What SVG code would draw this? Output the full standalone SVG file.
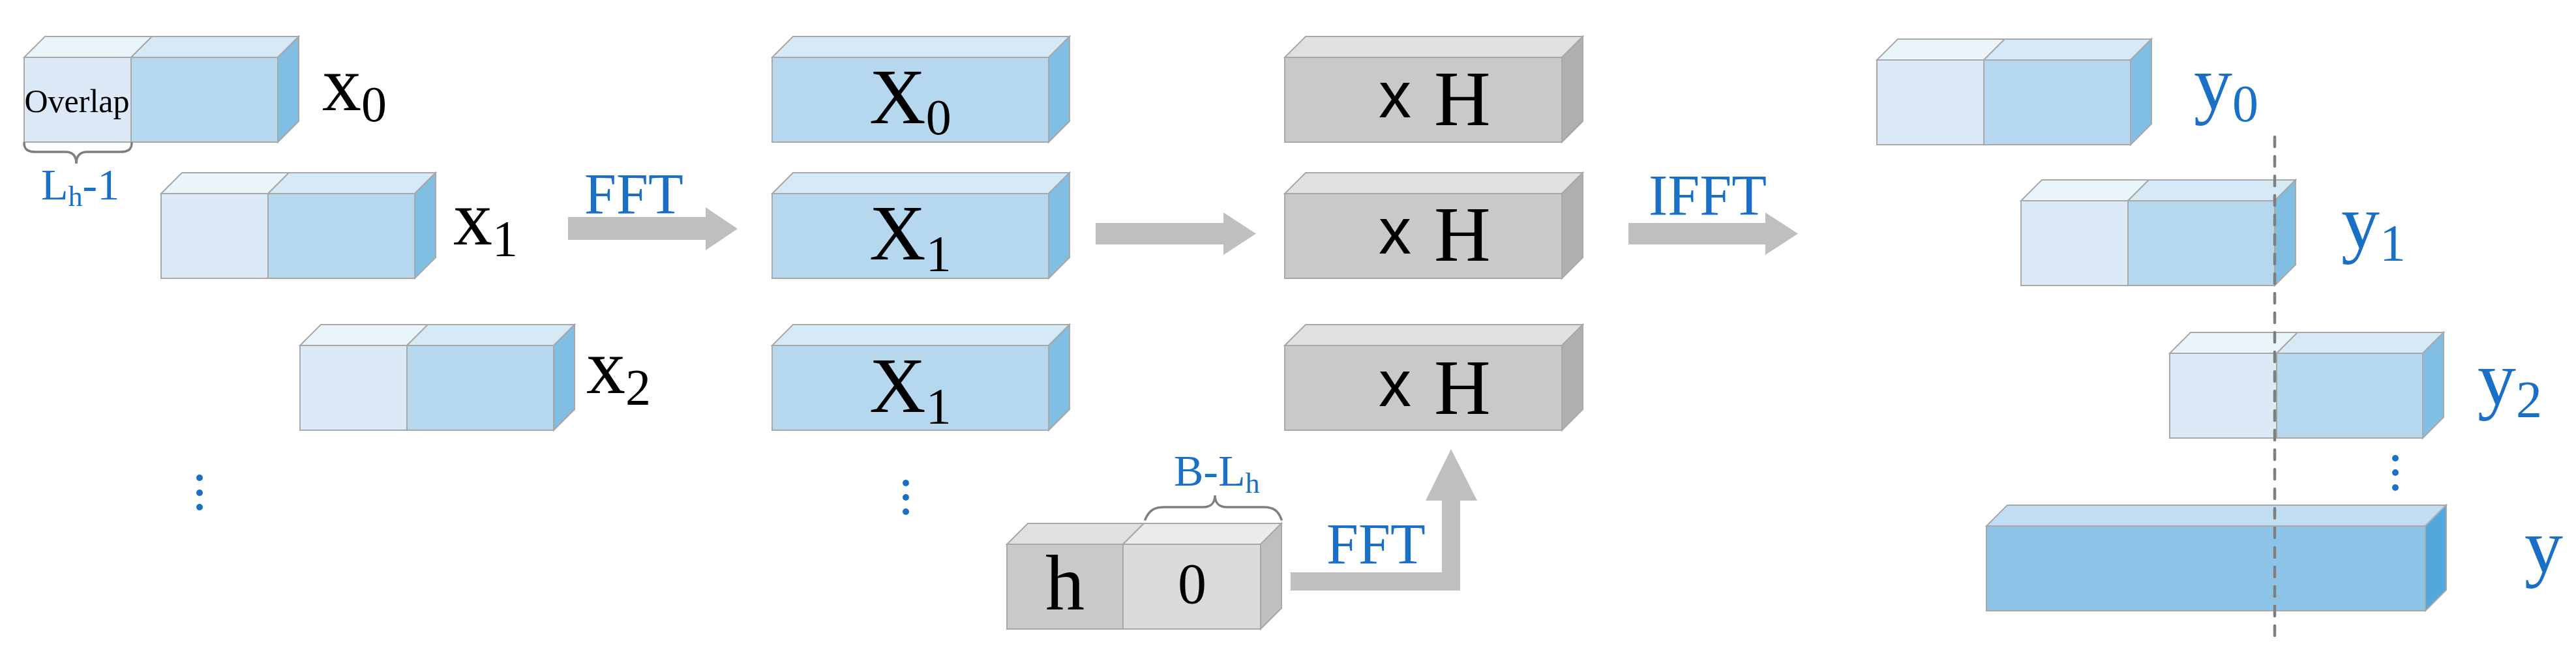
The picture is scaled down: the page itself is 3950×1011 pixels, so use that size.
<svg xmlns="http://www.w3.org/2000/svg" width="3950" height="1011" viewBox="0 0 3950 1011">
<defs>
<style>
.s{stroke:#a8a8a8;stroke-width:2;stroke-linejoin:miter}
.ovf{fill:#dbeaf6}.ovt{fill:#eaf4fb}
.mf{fill:#b5d8ef}.mt{fill:#d6e9f7}.ms{fill:#80bee4}
.yf{fill:#8dc3e7}.yt{fill:#c0ddf1}.ys{fill:#52a8dc}
.gf{fill:#c9c9c9}.gt{fill:#e0e0e0}.gs{fill:#afafaf}
.zf{fill:#dbdbdb}.zt{fill:#ebebeb}.zs{fill:#bfbfbf}
.arr{fill:#bfbfbf}
.serif{font-family:"Liberation Serif","Times New Roman",serif}
.sans{font-family:"Liberation Sans",Arial,sans-serif}
.blk{fill:#000}
.blu{fill:#1a6fc6}
.brace{fill:none;stroke:#7f7f7f;stroke-width:3.5;stroke-linecap:round}
.dot{fill:#1a6fc6}
</style>
</defs>
<rect width="3950" height="1011" fill="#fff"/>

<!-- input blocks x0,x1,x2 -->
<g id="x0">
<polygon class="s ovt" points="37,88 69,56 233,56 201,88"/>
<polygon class="s mt" points="201,88 233,56 458,56 426,88"/>
<polygon class="s ms" points="426,88 458,56 458,186 426,218"/>
<rect class="s ovf" x="37" y="88" width="164" height="130"/>
<rect class="s mf" x="201" y="88" width="225" height="130"/>
<text class="serif blk" x="118" y="172" font-size="50" text-anchor="middle">Overlap</text>
<text class="serif blk" x="494" y="169" font-size="120">x<tspan font-size="78" dy="17">0</tspan></text>
</g>
<g id="x1">
<polygon class="s ovt" points="247,297 279,265 443,265 411,297"/>
<polygon class="s mt" points="411,297 443,265 668,265 636,297"/>
<polygon class="s ms" points="636,297 668,265 668,395 636,427"/>
<rect class="s ovf" x="247" y="297" width="164" height="130"/>
<rect class="s mf" x="411" y="297" width="225" height="130"/>
<text class="serif blk" x="695" y="375" font-size="120">x<tspan font-size="78" dy="17">1</tspan></text>
</g>
<g id="x2">
<polygon class="s ovt" points="460,530 492,498 656,498 624,530"/>
<polygon class="s mt" points="624,530 656,498 881,498 849,530"/>
<polygon class="s ms" points="849,530 881,498 881,628 849,660"/>
<rect class="s ovf" x="460" y="530" width="164" height="130"/>
<rect class="s mf" x="624" y="530" width="225" height="130"/>
<text class="serif blk" x="899" y="603" font-size="120">x<tspan font-size="78" dy="17">2</tspan></text>
</g>
<g id="lh1">
<path class="brace" d="M37,219 C37,229 42,233 55,233 L100,233 C110,233 117,238 117,251 C117,238 124,233 134,233 L184,233 C197,233 202,229 202,219"/>
<text class="serif blu" x="63" y="306" font-size="68">L<tspan font-size="44" dy="10">h</tspan><tspan dy="-10">-1</tspan></text>
</g>
<g id="dots-left">
<circle class="dot" cx="306" cy="733" r="5"/>
<circle class="dot" cx="306" cy="756" r="5"/>
<circle class="dot" cx="306" cy="778" r="5"/>
</g>

<!-- spectra X -->
<g id="X0">
<polygon class="s mt" points="1184,88 1216,56 1640,56 1608,88"/>
<polygon class="s ms" points="1608,88 1640,56 1640,186 1608,218"/>
<rect class="s mf" x="1184" y="88" width="424" height="130"/>
<text class="serif blk" x="1333" y="189" font-size="120">X<tspan font-size="78" dy="17">0</tspan></text>
</g>
<g id="X1a">
<polygon class="s mt" points="1184,297 1216,265 1640,265 1608,297"/>
<polygon class="s ms" points="1608,297 1640,265 1640,395 1608,427"/>
<rect class="s mf" x="1184" y="297" width="424" height="130"/>
<text class="serif blk" x="1333" y="398" font-size="120">X<tspan font-size="78" dy="17">1</tspan></text>
</g>
<g id="X1b">
<polygon class="s mt" points="1184,530 1216,498 1640,498 1608,530"/>
<polygon class="s ms" points="1608,530 1640,498 1640,628 1608,660"/>
<rect class="s mf" x="1184" y="530" width="424" height="130"/>
<text class="serif blk" x="1333" y="632" font-size="120">X<tspan font-size="78" dy="17">1</tspan></text>
</g>
<g id="dots-mid">
<circle class="dot" cx="1389" cy="741" r="5"/>
<circle class="dot" cx="1389" cy="763" r="5"/>
<circle class="dot" cx="1389" cy="785" r="5"/>
</g>

<!-- xH blocks -->
<g id="xH0">
<polygon class="s gt" points="1970,88 2002,56 2427,56 2395,88"/>
<polygon class="s gs" points="2395,88 2427,56 2427,186 2395,218"/>
<rect class="s gf" x="1970" y="88" width="425" height="130"/>
<text class="sans blk" x="2114" y="180" font-size="100">x</text>
<text class="serif blk" x="2199" y="192" font-size="120">H</text>
</g>
<g id="xH1">
<polygon class="s gt" points="1970,297 2002,265 2427,265 2395,297"/>
<polygon class="s gs" points="2395,297 2427,265 2427,395 2395,427"/>
<rect class="s gf" x="1970" y="297" width="425" height="130"/>
<text class="sans blk" x="2114" y="389" font-size="100">x</text>
<text class="serif blk" x="2199" y="400" font-size="120">H</text>
</g>
<g id="xH2">
<polygon class="s gt" points="1970,530 2002,498 2427,498 2395,530"/>
<polygon class="s gs" points="2395,530 2427,498 2427,628 2395,660"/>
<rect class="s gf" x="1970" y="530" width="425" height="130"/>
<text class="sans blk" x="2114" y="623" font-size="100">x</text>
<text class="serif blk" x="2199" y="635" font-size="120">H</text>
</g>

<!-- filter block h|0 -->
<g id="hbox">
<polygon class="s gt" points="1544,835 1576,803 1754,803 1722,835"/>
<polygon class="s zt" points="1722,835 1754,803 1965,803 1933,835"/>
<polygon class="s zs" points="1933,835 1965,803 1965,933 1933,965"/>
<rect class="s gf" x="1544" y="835" width="178" height="130"/>
<rect class="s zf" x="1722" y="835" width="211" height="130"/>
<text class="serif blk" x="1633" y="935" font-size="120" text-anchor="middle">h</text>
<text class="serif blk" x="1828" y="925" font-size="88" text-anchor="middle">0</text>
</g>
<g id="blh">
<path class="brace" d="M1756,797 C1762,783 1770,778 1785,778 L1845,778 C1856,778 1863,772 1863,760 C1863,772 1870,778 1881,778 L1938,778 C1952,778 1960,783 1965,797"/>
<text class="serif blu" x="1800" y="745" font-size="68">B-L<tspan font-size="44" dy="11">h</tspan></text>
</g>

<!-- outputs y -->
<g id="y0">
<polygon class="s ovt" points="2878,92 2910,60 3074,60 3042,92"/>
<polygon class="s mt" points="3042,92 3074,60 3299,60 3267,92"/>
<polygon class="s ms" points="3267,92 3299,60 3299,190 3267,222"/>
<rect class="s ovf" x="2878" y="92" width="164" height="130"/>
<rect class="s mf" x="3042" y="92" width="225" height="130"/>
<text class="serif blu" x="3364" y="168" font-size="118">y<tspan font-size="80" dy="18">0</tspan></text>
</g>
<g id="y1">
<polygon class="s ovt" points="3099,308 3131,276 3295,276 3263,308"/>
<polygon class="s mt" points="3263,308 3295,276 3520,276 3488,308"/>
<polygon class="s ms" points="3488,308 3520,276 3520,406 3488,438"/>
<rect class="s ovf" x="3099" y="308" width="164" height="130"/>
<rect class="s mf" x="3263" y="308" width="225" height="130"/>
<text class="serif blu" x="3590" y="381" font-size="118">y<tspan font-size="80" dy="19">1</tspan></text>
</g>
<g id="y2">
<polygon class="s ovt" points="3327,542 3359,510 3523,510 3491,542"/>
<polygon class="s mt" points="3491,542 3523,510 3747,510 3715,542"/>
<polygon class="s ms" points="3715,542 3747,510 3747,640 3715,672"/>
<rect class="s ovf" x="3327" y="542" width="164" height="130"/>
<rect class="s mf" x="3491" y="542" width="224" height="130"/>
<text class="serif blu" x="3799" y="621" font-size="118">y<tspan font-size="80" dy="19">2</tspan></text>
</g>
<g id="dots-right">
<circle class="dot" cx="3673" cy="703" r="5"/>
<circle class="dot" cx="3673" cy="725" r="5"/>
<circle class="dot" cx="3673" cy="748" r="5"/>
</g>
<g id="y">
<polygon class="s yt" points="3046,807 3078,775 3751,775 3719,807"/>
<polygon class="s ys" points="3719,807 3751,775 3751,905 3719,937"/>
<rect class="s yf" x="3046" y="807" width="673" height="130"/>
<text class="serif blu" x="3871" y="878" font-size="118">y</text>
</g>

<!-- connectors -->
<g id="connectors">
<polygon class="arr" points="871,333 1082,333 1082,318 1131,351 1082,384 1082,368 871,368"/>
<text class="serif blu" x="896" y="327" font-size="88">FFT</text>
<polygon class="arr" points="1680,342 1876,342 1876,326 1926,358.5 1876,391 1876,375 1680,375"/>
<polygon class="arr" points="2497,342 2707,342 2707,326 2757,358.5 2707,391 2707,375 2497,375"/>
<text class="serif blu" x="2528" y="329" font-size="88">IFFT</text>
<polygon class="arr" points="1979,878 2211,878 2211,768 2186,768 2225,689 2265,768 2239,768 2239,906 1979,906"/>
<text class="serif blu" x="2034" y="864" font-size="88">FFT</text>
<line x1="3488" y1="210" x2="3488" y2="976" stroke="#7f7f7f" stroke-width="4.5" stroke-dasharray="15 15" stroke-linecap="round"/>
</g>
</svg>
